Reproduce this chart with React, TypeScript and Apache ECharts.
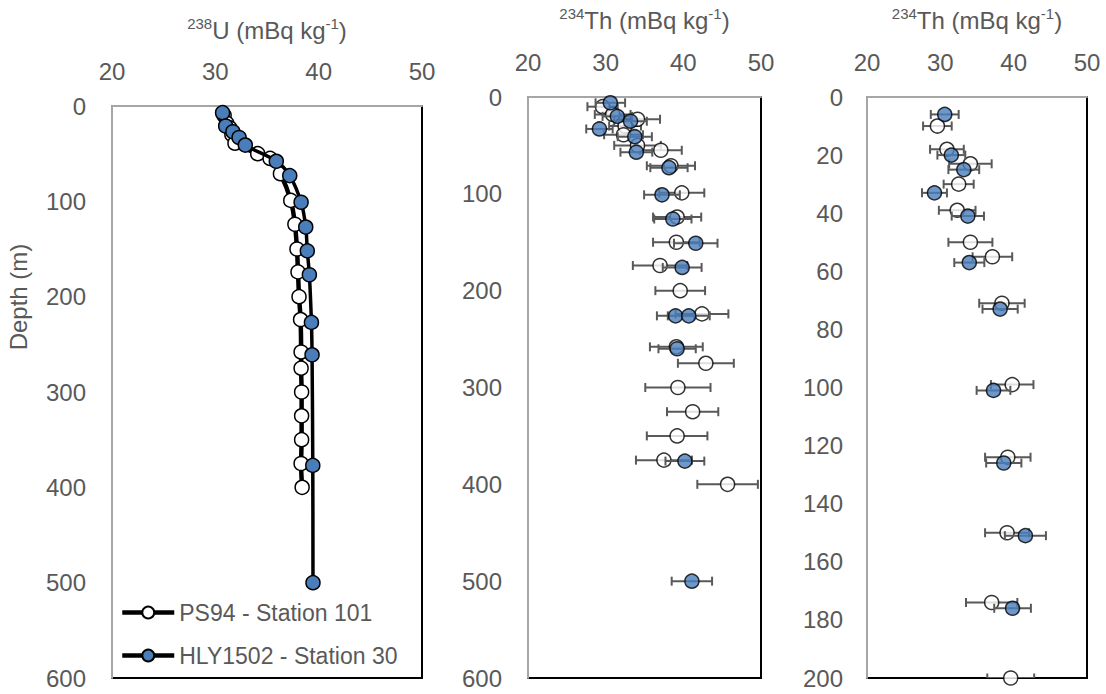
import React, { useEffect, useRef } from "react";
import * as echarts from "echarts";

// ---- Data ----
// Panel 1: 238U
const U_PS94_DEPTH = [10, 18, 23, 30, 39, 50, 55, 71, 99, 124, 150, 174, 200, 224, 258, 275, 300, 325, 350, 375, 400];
const U_PS94_VAL = [30.85, 31.1, 31.4, 31.6, 31.9, 34.1, 35.3, 36.3, 37.3, 37.7, 37.9, 38.0, 38.1, 38.25, 38.3, 38.3, 38.35, 38.35, 38.35, 38.3, 38.4];
const U_HLY_DEPTH = [7, 21, 27, 33, 41, 58, 73, 101, 127, 152, 177, 227, 261, 377, 500];
const U_HLY_VAL = [30.7, 31.0, 31.7, 32.3, 32.9, 35.9, 37.2, 38.3, 38.75, 38.9, 39.1, 39.3, 39.36, 39.43, 39.45];

// Panels 2 & 3: 234Th
const TH_PS94_DEPTH = [10, 18, 23, 30, 39, 50, 55, 71, 99, 124, 150, 174, 200, 224, 258, 275, 300, 325, 350, 375, 400];
const TH_PS94_VAL = [29.6, 30.9, 34.1, 32.5, 32.3, 34.1, 37.1, 38.4, 39.8, 39.2, 39.1, 37.0, 39.6, 42.4, 39.1, 42.9, 39.3, 41.2, 39.2, 37.5, 45.7];
const TH_PS94_ERR = [1.95, 2.3, 2.9, 2.05, 2.5, 3.0, 2.7, 3.1, 2.9, 3.1, 3.0, 3.5, 3.2, 3.4, 3.4, 3.6, 4.2, 3.3, 3.9, 3.6, 3.9];
const TH_HLY_DEPTH = [6, 20, 25, 33, 41, 57, 73, 101, 126, 151, 176, 226, 226, 260, 376, 500];
const TH_HLY_VAL = [30.6, 31.5, 33.2, 29.2, 33.75, 33.95, 38.15, 37.25, 38.65, 41.6, 39.85, 39.0, 40.7, 39.2, 40.2, 41.1];
const TH_HLY_ERR = [1.9, 1.9, 2.1, 1.7, 2.2, 2.05, 2.4, 2.3, 2.4, 2.8, 2.5, 2.4, 2.7, 2.4, 2.5, 2.6];

const X_MIN = 20;
const X_MAX = 50;
const X_STEP = 10;

const NAME_PS94 = "PS94 - Station 101";
const NAME_HLY = "HLY1502 - Station 30";

const GRAY = "#595959";
const BLUE = "#4A7EBB";
const FONT = "'Liberation Sans', Arial, sans-serif";

const pairs = (xs: number[], ys: number[]) => xs.map((x, i) => [x, ys[i]]);
const triples = (xs: number[], ys: number[], es: number[]) => xs.map((x, i) => [x, ys[i], es[i]]);

function errRender(params: any, api: any) {
  const y = api.value(1);
  const x = api.value(0);
  const e = api.value(2);
  const p1 = api.coord([x - e, y]);
  const p2 = api.coord([x + e, y]);
  const h = 4.5;
  const style = { stroke: GRAY, lineWidth: 2 };
  return {
    type: "group",
    children: [
      { type: "line", shape: { x1: p1[0], y1: p1[1], x2: p2[0], y2: p2[1] }, style },
      { type: "line", shape: { x1: p1[0], y1: p1[1] - h, x2: p1[0], y2: p1[1] + h }, style },
      { type: "line", shape: { x1: p2[0], y1: p2[1] - h, x2: p2[0], y2: p2[1] + h }, style },
    ],
  };
}

export default function App() {
  const ref = useRef<HTMLDivElement>(null);
  useEffect(() => {
    document.body.style.margin = "0";
    const chart = echarts.init(ref.current!, undefined, { renderer: "svg" });

    const grids = [
      { left: 112, top: 106, width: 310, height: 572 },
      { left: 528, top: 97, width: 233, height: 581 },
      { left: 867, top: 97, width: 220, height: 581 },
    ];
    const yMax = [600, 600, 200];
    const yStep = [100, 100, 20];
    const nameGaps = [62, 63, 63];
    const xLabelMargins = [23, 23, 23];
    const titles = [
      "{s|238}U (mBq kg{s|-1})",
      "{s|234}Th (mBq kg{s|-1})",
      "{s|234}Th (mBq kg{s|-1})",
    ];

    const richSup = {
      s: { fontSize: 15, color: GRAY, fontFamily: FONT, verticalAlign: "top", lineHeight: 28 },
    };

    const xAxes = grids.map((_, i) => ({
      type: "value",
      gridIndex: i,
      position: "top",
      min: X_MIN,
      max: X_MAX,
      interval: X_STEP,
      name: titles[i],
      nameLocation: "middle",
      nameGap: nameGaps[i],
      nameTextStyle: { fontSize: 24, color: GRAY, fontFamily: FONT, lineHeight: 28, rich: richSup },
      axisLine: { show: true, lineStyle: { color: "#A6A6A6", width: 2 } },
      axisTick: { show: false },
      splitLine: { show: false },
      axisLabel: { fontSize: 24, color: GRAY, fontFamily: FONT, margin: xLabelMargins[i] },
    }));

    const yAxes = grids.map((_, i) => ({
      type: "value",
      gridIndex: i,
      inverse: true,
      min: 0,
      max: yMax[i],
      interval: yStep[i],
      axisLine: { show: true, onZero: false, lineStyle: { color: "#A6A6A6", width: 2 } },
      axisTick: { show: false },
      splitLine: { show: false },
      axisLabel: { fontSize: 24, color: GRAY, fontFamily: FONT, margin: i === 2 ? 24 : 26 },
    }));

    const symbolStyle = (fill: string) => ({ color: fill, borderColor: "#000", borderWidth: 1.5 });

    const series: any[] = [
      {
        name: NAME_PS94,
        type: "line",
        xAxisIndex: 0,
        yAxisIndex: 0,
        data: pairs(U_PS94_VAL, U_PS94_DEPTH),
        smooth: 0.35,
        symbol: "circle",
        symbolSize: 14,
        lineStyle: { color: "#000", width: 4.5 },
        itemStyle: symbolStyle("#fff"),
        z: 2,
      },
      {
        name: NAME_HLY,
        type: "line",
        xAxisIndex: 0,
        yAxisIndex: 0,
        data: pairs(U_HLY_VAL, U_HLY_DEPTH),
        smooth: 0.35,
        symbol: "circle",
        symbolSize: 14,
        lineStyle: { color: "#000", width: 3.5 },
        itemStyle: symbolStyle(BLUE),
        z: 3,
      },
    ];

    [1, 2].forEach((gi) => {
      series.push(
        {
          name: "err-ps94-" + gi,
          type: "custom",
          xAxisIndex: gi,
          yAxisIndex: gi,
          renderItem: errRender,
          data: triples(TH_PS94_VAL, TH_PS94_DEPTH, TH_PS94_ERR),
          encode: { x: 0, y: 1 },
          clip: true,
          z: 2,
        },
        {
          name: NAME_PS94,
          type: "scatter",
          xAxisIndex: gi,
          yAxisIndex: gi,
          data: pairs(TH_PS94_VAL, TH_PS94_DEPTH),
          symbol: "circle",
          symbolSize: 14,
          itemStyle: symbolStyle("#fff"),
          clip: true,
          z: 3,
        },
        {
          name: "err-hly-" + gi,
          type: "custom",
          xAxisIndex: gi,
          yAxisIndex: gi,
          renderItem: errRender,
          data: triples(TH_HLY_VAL, TH_HLY_DEPTH, TH_HLY_ERR),
          encode: { x: 0, y: 1 },
          clip: true,
          z: 4,
        },
        {
          name: NAME_HLY,
          type: "scatter",
          xAxisIndex: gi,
          yAxisIndex: gi,
          data: pairs(TH_HLY_VAL, TH_HLY_DEPTH),
          symbol: "circle",
          symbolSize: 14,
          itemStyle: symbolStyle(BLUE),
          clip: true,
          z: 5,
        }
      );
    });

    chart.setOption({
      animation: false,
      backgroundColor: "#fff",
      textStyle: { fontFamily: FONT },
      grid: grids.map((g) => ({
        ...g,
        show: true,
        backgroundColor: "#fff",
        borderColor: "#000",
        borderWidth: 2,
        containLabel: false,
        outerBoundsMode: "none",
      })),
      xAxis: xAxes,
      yAxis: yAxes,
      legend: {
        data: [NAME_PS94, NAME_HLY],
        orient: "vertical",
        left: 120,
        top: 601,
        padding: 0,
        itemWidth: 52,
        itemHeight: 15,
        itemGap: 20,
        selectedMode: false,
        lineStyle: { width: 4.5, color: "#000" },
        textStyle: { fontSize: 23, color: GRAY, fontFamily: FONT },
      },
      graphic: [
        {
          type: "text",
          x: 18,
          y: 297,
          rotation: Math.PI / 2,
          style: {
            text: "Depth (m)",
            fontSize: 24,
            fill: GRAY,
            fontFamily: FONT,
            align: "center",
            verticalAlign: "middle",
          },
        },
      ],
      series,
    });
    return () => chart.dispose();
  }, []);
  return <div ref={ref} style={{ width: 1106, height: 694 }} />;
}
